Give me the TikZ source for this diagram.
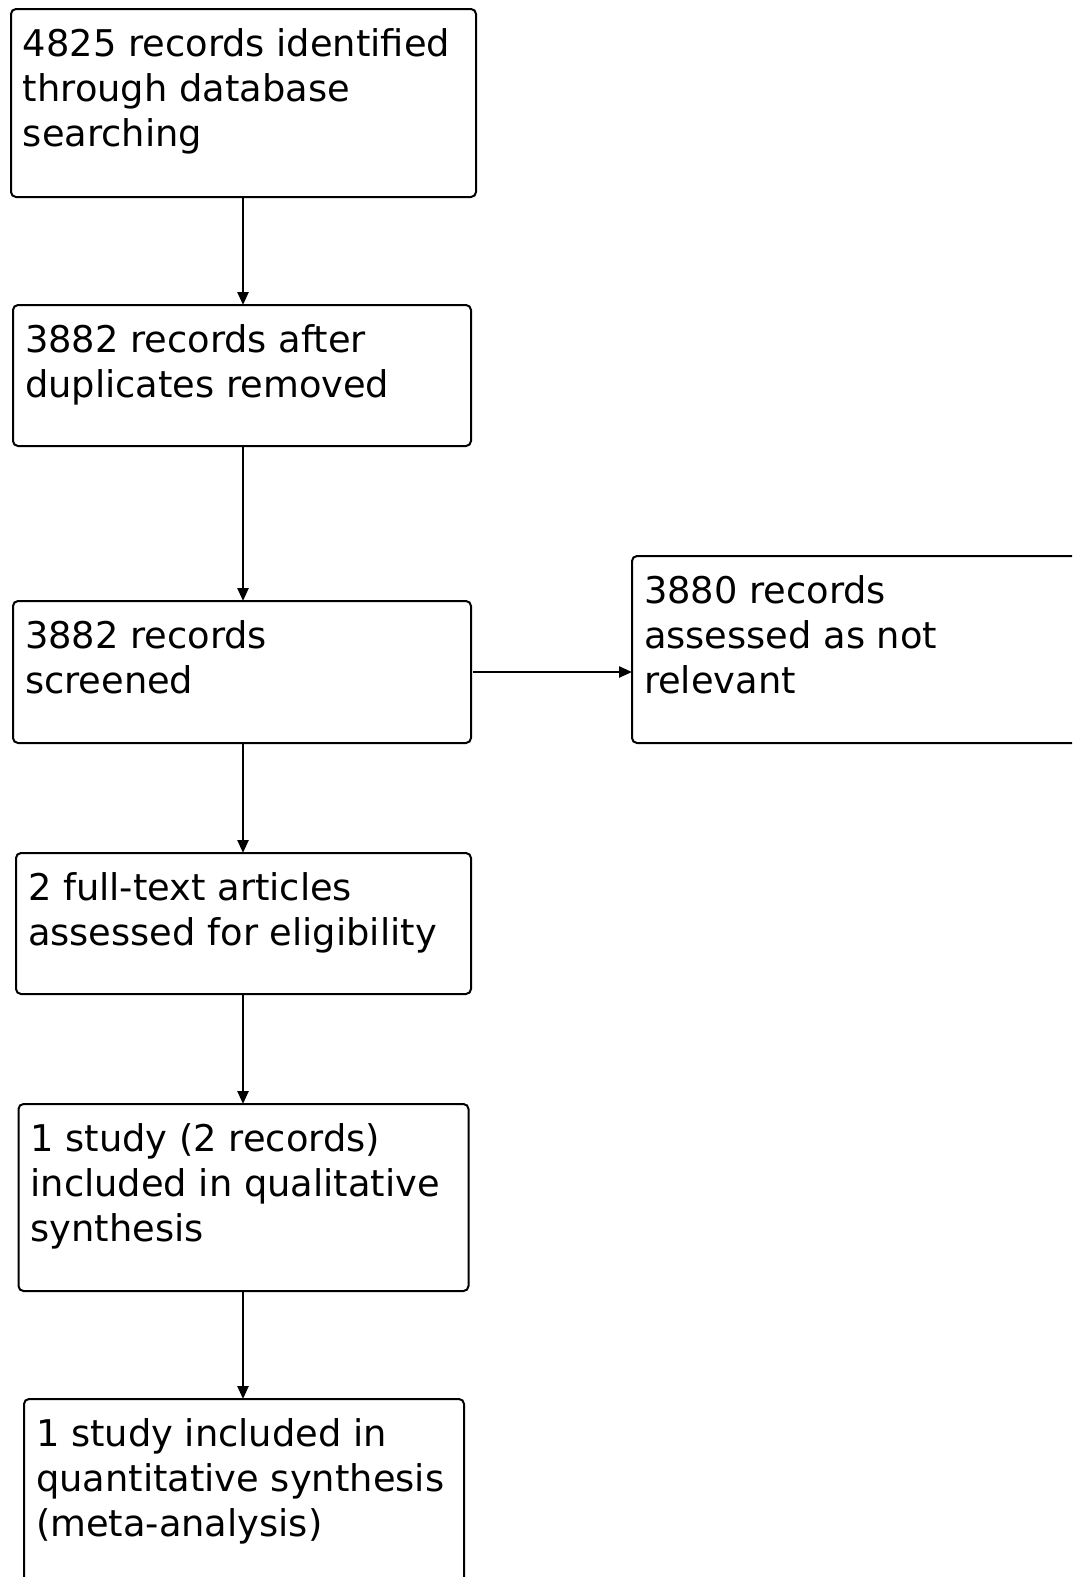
\documentclass[tikz,border=0pt]{standalone}
\usepackage{fontspec}
\setmainfont{DejaVu Sans}
\usetikzlibrary{arrows.meta,calc}
\tikzset{
  box/.style={draw=black, line width=2pt, rounded corners=5pt, rectangle, inner sep=0pt, outer sep=0pt, anchor=north west},
  txt/.style={inner sep=0pt, outer sep=0pt, anchor=north west, align=left, font=\fontsize{36.8}{45}\selectfont},
  conn/.style={line width=2.4pt, -{Triangle[length=13pt,width=11pt]}}
}
\begin{document}
\begin{tikzpicture}[x=1pt,y=-1pt]
\useasboundingbox (0,0) rectangle (1072,1577);
\clip (0,0) rectangle (1072,1577);
\node[box, minimum width=465, minimum height=188] (b1) at (11,9) {};
\node[box, minimum width=458, minimum height=141] (b2) at (13,305) {};
\node[box, minimum width=458, minimum height=142] (b3) at (13,601) {};
\node[box, minimum width=460, minimum height=187] (r) at (632,556) {};
\node[box, minimum width=455, minimum height=141] (b4) at (16,853) {};
\node[box, minimum width=450, minimum height=187] (b5) at (18.5,1104) {};
\node[box, minimum width=440, minimum height=220] (b6) at (24,1399) {};
\coordinate (axis) at (243,0);
\node[txt] (t1) at ($(b1.north west)+(12,15.5)$) {\strut 4825 records identified\\through database\\searching};
\node[txt] (t2) at ($(b2.north west)+(12,15.5)$) {\strut 3882 records after\\duplicates removed};
\node[txt] (t3) at ($(b3.north west)+(12,15.5)$) {\strut 3882 records\\screened};
\node[txt] (tr) at ($(r.north west)+(12,15.5)$) {\strut 3880 records\\assessed as not\\relevant};
\node[txt] (t4) at ($(b4.north west)+(12,15.5)$) {\strut 2 full-text articles\\assessed for eligibility};
\node[txt] (t5) at ($(b5.north west)+(12,15.5)$) {\strut 1 study (2 records)\\included in qualitative\\synthesis};
\node[txt] (t6) at ($(b6.north west)+(12,15.5)$) {\strut 1 study included in\\quantitative synthesis\\(meta-analysis)};
\draw[conn] (axis |- b1.south) -- (axis |- b2.north);
\draw[conn] (axis |- b2.south) -- (axis |- b3.north);
\draw[conn] (axis |- b3.south) -- (axis |- b4.north);
\draw[conn] (axis |- b4.south) -- (axis |- b5.north);
\draw[conn] (axis |- b5.south) -- (axis |- b6.north);
\draw[conn] ($(b3.east)+(2,0)$) -- (b3.east -| r.west);
\end{tikzpicture}
\end{document}
